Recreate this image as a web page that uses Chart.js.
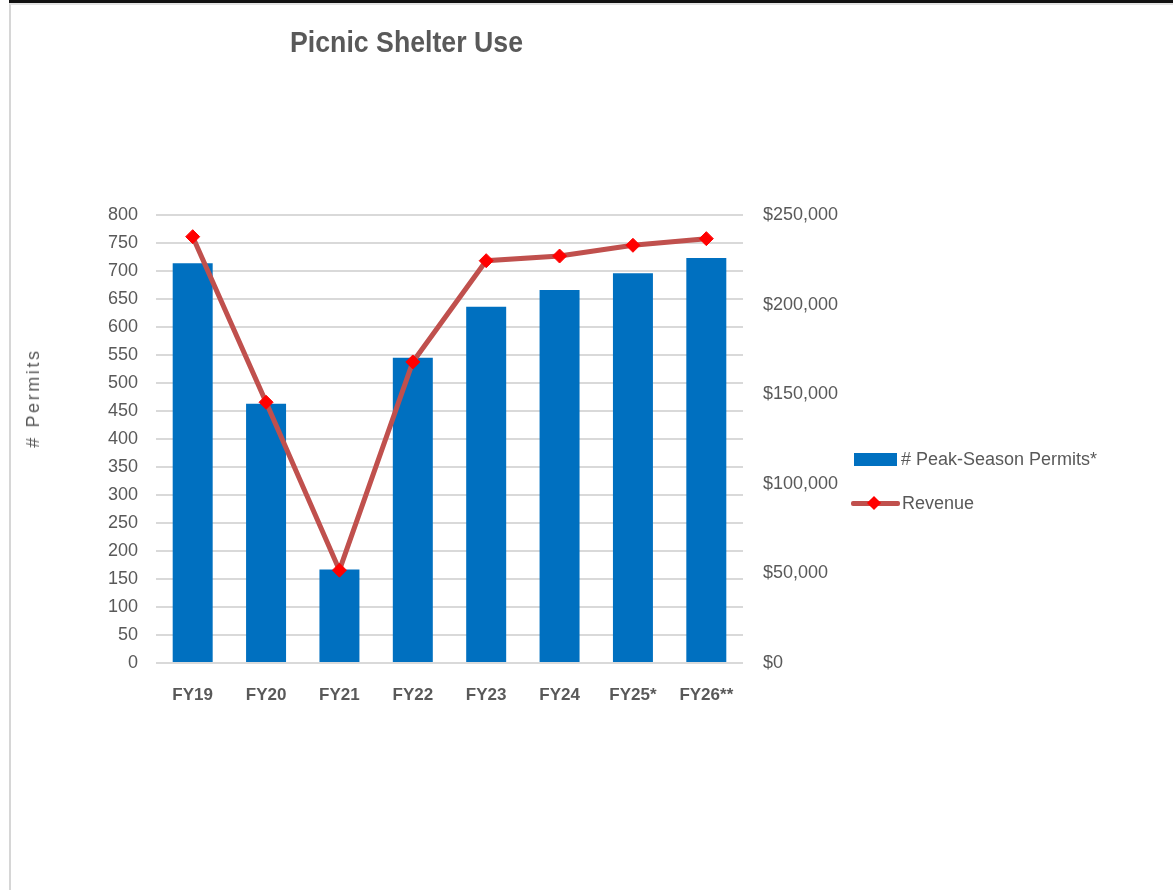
<!DOCTYPE html>
<html>
<head>
<meta charset="utf-8">
<script src="https://cdn.jsdelivr.net/npm/chart.js@4.4.1/dist/chart.umd.min.js"></script>
<style>
  html, body { margin: 0; padding: 0; background: #ffffff; }
  #wrap { position: relative; width: 1173px; height: 890px; overflow: hidden; background: #fff; }
  #topbar { position: absolute; left: 9px; top: 0; width: 1164px; height: 3px; background: #111; }
  #frame { position: absolute; left: 9px; top: 3px; width: 1170px; height: 900px; border-left: 2px solid #d6d6d6; border-top: 2px solid #e2e2e2; box-sizing: border-box; }
  #c { position: absolute; left: 0; top: 0; }
  #title { position: absolute; left: 290px; top: 27px; font-family: "Liberation Sans", Arial, sans-serif; font-weight: bold; font-size: 30px; color: #595959; white-space: nowrap; line-height: 1; transform: scaleX(0.89); transform-origin: 0 0; }
  #ytitle { position: absolute; left: 33px; top: 398px; transform: translate(-50%, -50%) rotate(-90deg); font-family: "Liberation Sans", Arial, sans-serif; font-size: 18px; letter-spacing: 2.6px; color: #595959; white-space: nowrap; line-height: 1; }
  .lg { position: absolute; font-family: "Liberation Sans", Arial, sans-serif; font-size: 18px; color: #595959; white-space: nowrap; line-height: 1; }
  .sw { position: absolute; }
</style>
</head>
<body>
<div id="wrap">
  <div id="topbar"></div>
  <div id="frame"></div>
  <canvas id="c" width="1173" height="890"></canvas>
  <div id="title"></div>
  <div id="ytitle"></div>
  <div id="legend"></div>
</div>
<script>
// ---- data ----
const chartTitle = "Picnic Shelter Use";
const leftAxisTitle = "# Permits";
const categories = ["FY19", "FY20", "FY21", "FY22", "FY23", "FY24", "FY25*", "FY26**"];
const permitsLabel = "# Peak-Season Permits*";
const permits = [714, 463, 167, 545, 636, 666, 696, 723];
const revenueLabel = "Revenue";
const revenue = [237900, 145500, 51800, 168000, 224500, 227100, 233100, 236800];
const permitTicks = [0, 50, 100, 150, 200, 250, 300, 350, 400, 450, 500, 550, 600, 650, 700, 750, 800];
const revenueTicks = [0, 50000, 100000, 150000, 200000, 250000];

// ---- styles ----
const TEXT = "#595959";
const BAR = "#0070C0";
const LINE = "#C0504D";
const MARK = "#FF0000";
const FONT = "'Liberation Sans', Arial, sans-serif";

document.getElementById("title").textContent = chartTitle;
document.getElementById("ytitle").textContent = leftAxisTitle;

const chart = new Chart(document.getElementById("c"), {
  data: {
    labels: categories,
    datasets: [
      {
        type: "line",
        label: revenueLabel,
        data: revenue,
        yAxisID: "y1",
        order: 0,
        borderColor: LINE,
        borderWidth: 5,
        tension: 0,
        pointStyle: "rectRot",
        pointRadius: 7,
        pointBackgroundColor: MARK,
        pointBorderColor: MARK,
        pointBorderWidth: 1
      },
      {
        type: "bar",
        label: permitsLabel,
        data: permits,
        yAxisID: "y",
        order: 1,
        backgroundColor: BAR,
        borderWidth: 0,
        barPercentage: 0.545,
        categoryPercentage: 1.0
      }
    ]
  },
  options: {
    responsive: false,
    animation: false,
    devicePixelRatio: 1,
    layout: { padding: { top: 215, bottom: 167, left: 0, right: 320 } },
    plugins: {
      legend: { display: false },
      title: { display: false },
      tooltip: { enabled: false }
    },
    scales: {
      x: {
        grid: { display: false, drawTicks: false },
        border: { display: false },
        ticks: { color: TEXT, padding: 22, maxRotation: 0, font: { family: FONT, size: 17, weight: "bold" } },
        afterFit(s) { s.height = 60; }
      },
      y: {
        position: "left",
        min: 0, max: 800,
        afterBuildTicks(s) { s.ticks = permitTicks.map(v => ({ value: v })); },
        grid: { color: "#d9d9d9", lineWidth: 2, drawTicks: false },
        border: { display: false },
        ticks: { color: TEXT, padding: 18, font: { family: FONT, size: 18 } },
        afterFit(s) { s.width = 156; }
      },
      y1: {
        position: "right",
        min: 0, max: 250000,
        afterBuildTicks(s) { s.ticks = revenueTicks.map(v => ({ value: v })); },
        grid: { drawOnChartArea: false, drawTicks: false },
        border: { display: false },
        ticks: {
          color: TEXT, padding: 20, font: { family: FONT, size: 18 },
          callback: v => "$" + Number(v).toLocaleString("en-US")
        },
        afterFit(s) { s.width = 110; }
      }
    }
  }
});

// ---- HTML legend built from the datasets ----
const legend = document.getElementById("legend");
const barDs = chart.data.datasets.find(d => d.type === "bar");
const lineDs = chart.data.datasets.find(d => d.type === "line");
legend.innerHTML =
  '<div class="sw" style="left:854px;top:453px;width:43px;height:13px;background:' + barDs.backgroundColor + '"></div>' +
  '<div class="lg" style="left:901px;top:450px">' + barDs.label + '</div>' +
  '<div class="sw" style="left:851px;top:501px;width:49px;height:5px;border-radius:2px;background:' + lineDs.borderColor + '"></div>' +
  '<div class="sw" style="left:869px;top:498px;width:10px;height:10px;transform:rotate(45deg);background:' + lineDs.pointBackgroundColor + '"></div>' +
  '<div class="lg" style="left:902px;top:494px">' + lineDs.label + '</div>';
</script>
</body>
</html>
